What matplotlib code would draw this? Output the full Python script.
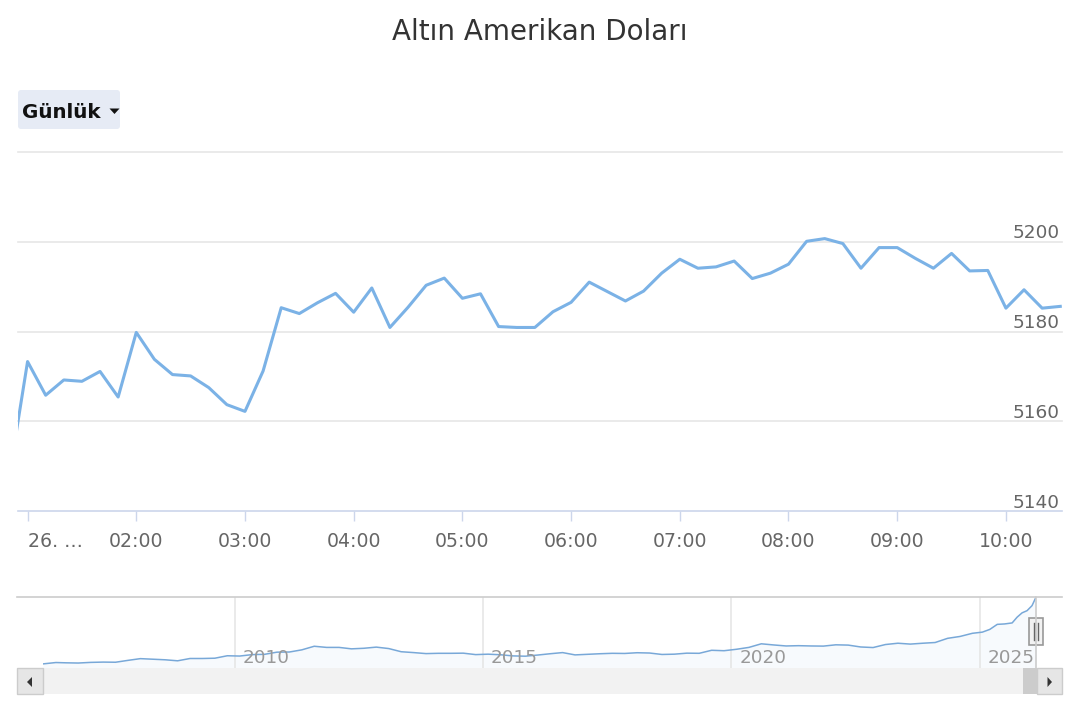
import matplotlib
matplotlib.use("Agg")
import matplotlib.pyplot as plt
from matplotlib.patches import Rectangle, FancyBboxPatch, Polygon

W, H = 1080, 720

# gün içi fiyatlar (10 dakikalık)
times = ["00:50", "01:00", "01:10", "01:20", "01:30", "01:40", "01:50",
         "02:00", "02:10", "02:20", "02:30", "02:40", "02:50",
         "03:00", "03:10", "03:20", "03:30", "03:40", "03:50",
         "04:00", "04:10", "04:20", "04:30", "04:40", "04:50",
         "05:00", "05:10", "05:20", "05:30", "05:40", "05:50",
         "06:00", "06:10", "06:20", "06:30", "06:40", "06:50",
         "07:00", "07:10", "07:20", "07:30", "07:40", "07:50",
         "08:00", "08:10", "08:20", "08:30", "08:40", "08:50",
         "09:00", "09:10", "09:20", "09:30", "09:40", "09:50",
         "10:00", "10:10", "10:20", "10:30"]
prices = [5148.0, 5173.3, 5165.8, 5169.2, 5168.9, 5171.1, 5165.4,
          5179.8, 5173.8, 5170.4, 5170.1, 5167.5, 5163.7,
          5162.2, 5171.2, 5185.3, 5184.0, 5186.4, 5188.5,
          5184.3, 5189.7, 5180.9, 5185.4, 5190.3, 5191.9,
          5187.4, 5188.4, 5181.1, 5180.9, 5180.9, 5184.4,
          5186.5, 5191.0, 5188.9, 5186.8, 5189.0, 5193.0,
          5196.1, 5194.1, 5194.4, 5195.7, 5191.8, 5193.0,
          5195.0, 5200.1, 5200.7, 5199.6, 5194.1, 5198.7,
          5198.7, 5196.3, 5194.1, 5197.4, 5193.5, 5193.6,
          5185.2, 5189.3, 5185.2, 5185.6]

x_ticks = ["01:00", "02:00", "03:00", "04:00", "05:00", "06:00", "07:00", "08:00", "09:00", "10:00"]
x_tick_labels = ["26. …", "02:00", "03:00", "04:00", "05:00", "06:00", "07:00", "08:00", "09:00", "10:00"]
y_ticks = [5140, 5160, 5180, 5200]
y_grid = [5160, 5180, 5200, 5220]

# navigator (uzun dönem)
nav_years = [2006.14, 2006.4, 2006.6, 2006.85, 2007.1, 2007.35, 2007.6, 2007.85,
             2008.1, 2008.35, 2008.6, 2008.85, 2009.1, 2009.35, 2009.6, 2009.85,
             2010.1, 2010.35, 2010.6, 2010.85, 2011.1, 2011.35, 2011.6, 2011.85,
             2012.1, 2012.35, 2012.6, 2012.85, 2013.1, 2013.35, 2013.6, 2013.85,
             2014.1, 2014.35, 2014.6, 2014.85, 2015.1, 2015.35, 2015.6, 2015.85,
             2016.1, 2016.35, 2016.6, 2016.85, 2017.1, 2017.35, 2017.6, 2017.85,
             2018.1, 2018.35, 2018.6, 2018.85, 2019.1, 2019.35, 2019.6, 2019.85,
             2020.1, 2020.35, 2020.6, 2020.85, 2021.1, 2021.35, 2021.6, 2021.85,
             2022.1, 2022.35, 2022.6, 2022.85, 2023.1, 2023.35, 2023.6, 2023.85,
             2024.1, 2024.35, 2024.6, 2024.85, 2025.05, 2025.2, 2025.35, 2025.5,
             2025.65, 2025.75, 2025.85, 2025.95, 2026.05, 2026.13]
nav_prices = [555, 650, 630, 615, 660, 680, 670, 800,
              920, 880, 840, 770, 930, 930, 950, 1120,
              1100, 1200, 1220, 1370, 1380, 1530, 1780, 1700,
              1700, 1600, 1640, 1720, 1620, 1400, 1340, 1270,
              1290, 1290, 1300, 1200, 1230, 1190, 1110, 1090,
              1170, 1260, 1340, 1180, 1220, 1260, 1290, 1280,
              1330, 1310, 1210, 1230, 1300, 1290, 1500, 1470,
              1570, 1700, 1950, 1870, 1800, 1820, 1800, 1790,
              1880, 1860, 1730, 1690, 1900, 1990, 1930, 1990,
              2040, 2330, 2460, 2680, 2760, 2950, 3300, 3330,
              3400, 3800, 4100, 4250, 4600, 5190]
nav_label_years = [2010, 2015, 2020, 2025]


def to_hours(s):
    h, m = s.split(":")
    return int(h) + int(m) / 60


def box(l, t, r, b):
    # piksel kutusunu figür oranına çevir
    return [l / W, 1 - b / H, (r - l) / W, (b - t) / H]


fig = plt.figure(figsize=(W / 100, H / 100), dpi=100)

# ana grafik
ax = fig.add_axes(box(18, 152, 1062, 511))
ax.plot([to_hours(t) for t in times], prices, color="#7bb2e6", lw=2.2,
        solid_joinstyle="round", zorder=3)
ax.set_xlim(0.912, 10.516)
ax.set_ylim(5140, 5220)
for v in y_grid:
    ax.axhline(v, color="#e6e6e6", lw=1.2, zorder=1, clip_on=False)
for s in ["top", "left", "right"]:
    ax.spines[s].set_visible(False)
ax.spines["bottom"].set_color("#ccd6eb")
ax.spines["bottom"].set_linewidth(1.2)
ax.set_yticks([])
for v in y_ticks:
    ax.annotate(str(v), xy=(1, v), xycoords=ax.get_yaxis_transform(),
                xytext=(-1.5, 2.5), textcoords="offset points",
                ha="right", va="baseline", color="#666666", fontsize=13.3)
ax.set_xticks([to_hours(t) for t in x_ticks], x_tick_labels)
ax.tick_params(axis="x", length=7.5, width=1, color="#ccd6eb",
               labelcolor="#666666", labelsize=13.6, pad=7.5)
ax.get_xticklabels()[0].set_horizontalalignment("left")

# navigator
nav = fig.add_axes(box(43, 597, 1036, 668))
nav.fill_between(nav_years, nav_prices, 0, color="#7cb5ec", alpha=0.06, lw=0)
nav.plot(nav_years, nav_prices, color="#78a8d8", lw=1.1, zorder=3)
nav.set_xlim(nav_years[0], nav_years[-1])
nav.set_ylim(270, 5200)
nav.axis("off")
for yr in nav_label_years:
    nav.axvline(yr, color="#e6e6e6", lw=1.2, zorder=1)
    nav.annotate(str(yr), xy=(yr, 0), xycoords=("data", "axes fraction"),
                 xytext=(5.5, 3.4), textcoords="offset points",
                 ha="left", va="baseline", color="#999999", fontsize=13.2, zorder=4)

# üst katman: başlık, buton, kaydırma çubuğu
ov = fig.add_axes([0, 0, 1, 1])
ov.set_xlim(0, W)
ov.set_ylim(H, 0)
ov.axis("off")

ov.text(540, 39.5, "Altın Amerikan Doları", ha="center", va="baseline",
        fontsize=20, color="#333333")

ov.add_patch(FancyBboxPatch((18, 90), 102, 39, boxstyle="round,pad=0,rounding_size=3",
                            fc="#e6ebf5", ec="none"))
ov.text(22, 117.5, "Günlük", ha="left", va="baseline", fontsize=14.3,
        fontweight="bold", color="#111111")
ov.add_patch(Polygon([(109.5, 108.5), (119.5, 108.5), (114.5, 114)], closed=True,
                     fc="#111111", ec="none"))

# navigator çerçevesi
ov.plot([17, 1036, 1036], [597, 597, 668], color="#cccccc", lw=1.2)
ov.plot([1036, 1062], [597, 597], color="#cccccc", lw=1.2)

# scrollbar
ov.add_patch(Rectangle((17, 668), 1045, 26, fc="#f2f2f2", ec="none"))
ov.add_patch(Rectangle((1023, 668), 14, 26, fc="#cccccc", ec="none"))
ov.add_patch(Rectangle((17, 668), 26, 26, fc="#e6e6e6", ec="#cccccc", lw=1))
ov.add_patch(Rectangle((1037, 668), 25, 26, fc="#e6e6e6", ec="#cccccc", lw=1))
ov.add_patch(Polygon([(27, 682), (32, 677), (32, 687)], closed=True, fc="#333333", ec="none"))
ov.add_patch(Polygon([(1052, 682), (1047.5, 677), (1047.5, 687)], closed=True, fc="#333333", ec="none"))

# tutamaç
ov.add_patch(Rectangle((1029, 618), 14, 27, fc="#f2f2f2", ec="#999999", lw=1.2))
ov.plot([1034.3, 1034.3], [623, 640], color="#666666", lw=1)
ov.plot([1037.5, 1037.5], [623, 640], color="#666666", lw=1)

fig.savefig("out.png", dpi=100, facecolor="white")
